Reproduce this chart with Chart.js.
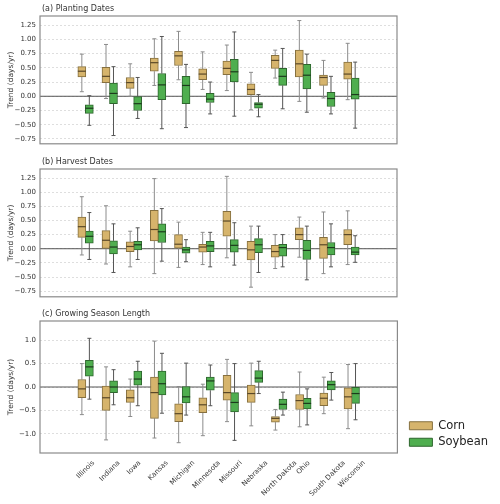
<!DOCTYPE html>
<html>
<head>
<meta charset="utf-8">
<script src="https://cdn.jsdelivr.net/npm/chart.js@4.4.0/dist/chart.umd.min.js"></script>
<style>
  body { margin: 0; background: #fff; }
  #wrap { position: relative; width: 500px; height: 504px; overflow: hidden; }
  canvas { position: absolute; left: 0; }
</style>
</head>
<body>
<div id="wrap">
  <canvas id="plantChart" width="500" height="152" style="top:0px"></canvas>
  <canvas id="harvestChart" width="500" height="152" style="top:153px"></canvas>
  <canvas id="seasonChart" width="500" height="198" style="top:306px"></canvas>
</div>
<script>
var states = ['Illinois', 'Indiana', 'Iowa', 'Kansas', 'Michigan', 'Minnesota', 'Missouri',
  'Nebraska', 'North Dakota', 'Ohio', 'South Dakota', 'Wisconsin'];

// each box: [whisker low, q1, median, q3, whisker high]
var plantCorn = [
  [0.08, 0.34, 0.44, 0.52, 0.74], [-0.04, 0.24, 0.35, 0.51, 0.91], [0.00, 0.14, 0.24, 0.33, 0.57],
  [0.19, 0.44, 0.59, 0.67, 1.01], [0.29, 0.54, 0.71, 0.79, 1.14], [0.12, 0.29, 0.39, 0.48, 0.78],
  [0.10, 0.38, 0.49, 0.62, 0.90], [-0.24, 0.03, 0.12, 0.22, 0.42], [0.32, 0.49, 0.63, 0.72, 0.81],
  [-0.09, 0.34, 0.57, 0.81, 1.33], [-0.03, 0.19, 0.33, 0.37, 0.63], [-0.06, 0.30, 0.39, 0.60, 0.93]
];
var plantSoy = [
  [-0.51, -0.30, -0.21, -0.15, 0.01], [-0.69, -0.13, 0.05, 0.23, 0.52], [-0.39, -0.25, -0.13, 0.00, 0.33],
  [-0.57, -0.06, 0.20, 0.40, 1.05], [-0.55, -0.13, 0.19, 0.35, 0.56], [-0.31, -0.11, -0.05, 0.05, 0.25],
  [-0.35, 0.25, 0.43, 0.65, 1.13], [-0.36, -0.21, -0.14, -0.11, 0.03], [-0.22, 0.19, 0.35, 0.49, 0.84],
  [-0.28, 0.13, 0.37, 0.56, 0.74], [-0.31, -0.18, -0.04, 0.07, 0.35], [-0.56, -0.05, 0.03, 0.32, 0.60]
];
var harvestCorn = [
  [-0.11, 0.20, 0.39, 0.56, 0.92], [-0.27, 0.00, 0.15, 0.32, 0.76], [-0.32, -0.05, 0.04, 0.12, 0.31],
  [-0.44, 0.14, 0.34, 0.68, 1.24], [-0.33, 0.01, 0.08, 0.25, 0.47], [-0.28, -0.06, 0.03, 0.08, 0.29],
  [-0.16, 0.22, 0.49, 0.66, 1.28], [-0.68, -0.20, -0.02, 0.13, 0.40], [-0.35, -0.15, -0.05, 0.06, 0.25],
  [-0.15, 0.16, 0.25, 0.37, 0.56], [-0.44, -0.17, 0.07, 0.20, 0.65], [-0.28, 0.07, 0.25, 0.34, 0.67]
];
var harvestSoy = [
  [-0.19, 0.10, 0.22, 0.31, 0.64], [-0.42, -0.09, 0.03, 0.14, 0.44], [-0.19, -0.02, 0.07, 0.13, 0.37],
  [-0.22, 0.11, 0.30, 0.44, 0.71], [-0.23, -0.08, -0.02, 0.03, 0.16], [-0.32, -0.05, 0.05, 0.13, 0.29],
  [-0.29, -0.06, 0.06, 0.16, 0.46], [-0.42, -0.07, 0.07, 0.18, 0.40], [-0.32, -0.13, 0.02, 0.08, 0.25],
  [-0.55, -0.19, -0.03, 0.15, 0.40], [-0.32, -0.11, 0.02, 0.11, 0.44], [-0.24, -0.11, -0.06, 0.03, 0.23]
];
var seasonCorn = [
  [-0.59, -0.23, -0.04, 0.16, 0.50], [-1.13, -0.50, -0.23, 0.02, 0.43], [-0.63, -0.33, -0.23, -0.06, 0.17],
  [-1.09, -0.67, -0.12, 0.21, 0.98], [-1.19, -0.74, -0.57, -0.36, 0.01], [-1.04, -0.55, -0.38, -0.23, 0.06],
  [-0.74, -0.28, -0.12, 0.25, 0.59], [-0.83, -0.33, -0.14, 0.04, 0.51], [-0.92, -0.75, -0.67, -0.63, -0.48],
  [-0.85, -0.48, -0.29, -0.16, 0.32], [-0.57, -0.40, -0.24, -0.13, 0.21], [-0.89, -0.47, -0.21, -0.02, 0.48]
];
var seasonSoy = [
  [-0.26, 0.23, 0.43, 0.57, 1.04], [-0.38, -0.12, 0.00, 0.13, 0.37], [-0.40, 0.04, 0.17, 0.34, 0.55],
  [-0.56, -0.17, 0.07, 0.34, 0.72], [-0.60, -0.34, -0.21, 0.01, 0.51], [-0.40, -0.07, 0.13, 0.21, 0.47],
  [-1.14, -0.53, -0.33, -0.12, 0.50], [-0.14, 0.10, 0.19, 0.35, 0.55], [-0.60, -0.48, -0.37, -0.26, -0.11],
  [-0.81, -0.47, -0.35, -0.24, -0.04], [-0.28, -0.06, 0.05, 0.13, 0.31], [-0.70, -0.35, -0.14, 0.00, 0.50]
];

Chart.defaults.font.family = "'DejaVu Sans', sans-serif";
Chart.defaults.color = '#333';
Chart.defaults.animation = false;

var cornColor = { fill: '#d6b46c', edge: '#86703f', whisker: '#8c8c8c', median: '#5a4828' };
var soyColor = { fill: '#4fae4f', edge: '#2e662e', whisker: '#555555', median: '#1c3a1c' };

function boxDataset(label, stats, col, shift) {
  return {
    label: label,
    data: stats.map(function(b, i) { return { x: i + shift, y: [b[1], b[3]] }; }),
    stats: stats,
    col: col,
    backgroundColor: col.fill,
    borderColor: col.edge,
    borderWidth: 1,
    borderSkipped: false,
    barThickness: 8,
    grouped: false
  };
}

// whiskers, medians, zero line, frame and panel title
var boxPlugin = {
  id: 'boxPlugin',
  beforeDatasetsDraw: function(chart) {
    var ctx = chart.ctx, a = chart.chartArea, y = chart.scales.y;
    ctx.save();
    var y0 = y.getPixelForValue(0);
    ctx.strokeStyle = '#555';
    ctx.lineWidth = 1;
    ctx.beginPath();
    ctx.moveTo(a.left, y0);
    ctx.lineTo(a.right, y0);
    ctx.stroke();
    chart.data.datasets.forEach(function(ds, d) {
      var meta = chart.getDatasetMeta(d);
      ctx.strokeStyle = ds.col.whisker;
      ctx.lineWidth = 1;
      meta.data.forEach(function(el, i) {
        var b = ds.stats[i];
        var lo = y.getPixelForValue(b[0]), hi = y.getPixelForValue(b[4]);
        ctx.beginPath();
        ctx.moveTo(el.x, lo); ctx.lineTo(el.x, y.getPixelForValue(b[1]));
        ctx.moveTo(el.x, hi); ctx.lineTo(el.x, y.getPixelForValue(b[3]));
        ctx.moveTo(el.x - 2, lo); ctx.lineTo(el.x + 2, lo);
        ctx.moveTo(el.x - 2, hi); ctx.lineTo(el.x + 2, hi);
        ctx.stroke();
      });
    });
    ctx.restore();
  },
  afterDatasetsDraw: function(chart) {
    var ctx = chart.ctx, a = chart.chartArea, y = chart.scales.y;
    ctx.save();
    chart.data.datasets.forEach(function(ds, d) {
      var meta = chart.getDatasetMeta(d);
      ctx.strokeStyle = ds.col.median;
      ctx.lineWidth = 1.2;
      meta.data.forEach(function(el, i) {
        var m = y.getPixelForValue(ds.stats[i][2]);
        ctx.beginPath();
        ctx.moveTo(el.x - el.width / 2, m);
        ctx.lineTo(el.x + el.width / 2, m);
        ctx.stroke();
      });
    });
    ctx.strokeStyle = '#8a8a8a';
    ctx.lineWidth = 1.2;
    ctx.strokeRect(a.left, a.top, a.right - a.left, a.bottom - a.top);
    ctx.fillStyle = '#333';
    ctx.font = "8px 'DejaVu Sans', sans-serif";
    ctx.textBaseline = 'middle';
    ctx.textAlign = 'left';
    ctx.fillText(chart.options.panelTitle, a.left + 2, a.top - 7.5);
    ctx.restore();
  }
};

// rotated state names, centred under each category like matplotlib
var stateLabels = {
  id: 'stateLabels',
  afterDraw: function(chart) {
    if (!chart.options.showStates) return;
    var ctx = chart.ctx, a = chart.chartArea, x = chart.scales.x;
    ctx.save();
    ctx.fillStyle = '#333';
    ctx.font = "7px 'DejaVu Sans', sans-serif";
    ctx.textAlign = 'center';
    ctx.textBaseline = 'middle';
    states.forEach(function(s, i) {
      var w = ctx.measureText(s).width;
      var half = (w + 8) * Math.SQRT1_2 / 2;
      ctx.save();
      ctx.translate(x.getPixelForValue(i), a.bottom + 6 + half);
      ctx.rotate(-Math.PI / 4);
      ctx.fillText(s, 0, 0);
      ctx.restore();
    });
    ctx.restore();
  }
};

function makePanel(id, title, corn, soy, yMin, yMax, step, dec, pad, withLegend) {
  var ctx = document.getElementById(id).getContext('2d');
  return new Chart(ctx, {
    type: 'bar',
    data: {
      datasets: [boxDataset('Corn', corn, cornColor, -0.155), boxDataset('Soybean', soy, soyColor, 0.155)]
    },
    options: {
      responsive: false,
      panelTitle: title,
      showStates: withLegend,
      layout: { padding: pad },
      scales: {
        x: {
          type: 'linear',
          display: false,
          min: -0.655,
          max: states.length - 1 + 0.655
        },
        y: {
          min: yMin,
          max: yMax,
          afterFit: function(scale) { scale.width = 40; },
          border: { display: false, dash: [2, 2] },
          grid: { color: '#d6d6d6', lineWidth: 0.8, drawTicks: false },
          ticks: {
            stepSize: step,
            includeBounds: false,
            padding: 4,
            font: { size: 7 },
            color: '#333',
            callback: function(v) { return v.toFixed(dec).replace('-', '\u2212'); }
          },
          title: {
            display: true,
            text: 'Trend (days/yr)',
            font: { size: 7.5 },
            color: '#333',
            padding: { top: 7, bottom: 0 }
          }
        }
      },
      plugins: {
        legend: {
          display: withLegend,
          position: 'right',
          align: 'end',
          labels: {
            boxWidth: 23,
            boxHeight: 8,
            padding: 5,
            color: '#222',
            font: { size: 11.5 }
          }
        },
        tooltip: { enabled: false }
      }
    },
    plugins: [boxPlugin, stateLabels]
  });
}

var plantChart = makePanel('plantChart', '(a) Planting Dates', plantCorn, plantSoy,
  -0.835, 1.41, 0.25, 2, { left: 0, right: 103, top: 16, bottom: 3 }, false);
var harvestChart = makePanel('harvestChart', '(b) Harvest Dates', harvestCorn, harvestSoy,
  -0.85, 1.41, 0.25, 2, { left: 0, right: 103, top: 16, bottom: 2 }, false);
var seasonChart = makePanel('seasonChart', '(c) Growing Season Length', seasonCorn, seasonSoy,
  -1.41, 1.41, 0.5, 1, { left: 0, right: 9, top: 15, bottom: 51 }, true);

// push the legend a little away from the plot frame
seasonChart.legend.left += 7;
seasonChart.legend.right += 7;
seasonChart.draw();
</script>
</body>
</html>
